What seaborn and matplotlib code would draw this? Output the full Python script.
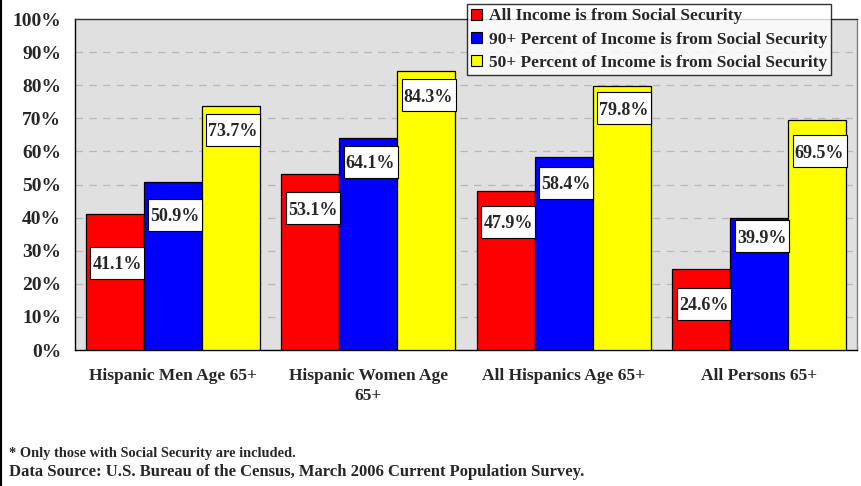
import matplotlib
matplotlib.use("Agg")
import matplotlib.pyplot as plt
import matplotlib.transforms as mtransforms
import seaborn as sns
import pandas as pd
from matplotlib.patches import Rectangle
from matplotlib.lines import Line2D

# Share of elderly recipients relying on Social Security, by group
groups = ["Hispanic Men Age 65+", "Hispanic Women Age\n65+",
          "All Hispanics Age 65+", "All Persons 65+"]
series = ["All Income is from Social Security",
          "90+ Percent of Income is from Social Security",
          "50+ Percent of Income is from Social Security"]
all_income = [41.1, 53.1, 47.9, 24.6]
ninety_plus = [50.9, 64.1, 58.4, 39.9]
fifty_plus = [73.7, 84.3, 79.8, 69.5]
ytick_values = [0, 10, 20, 30, 40, 50, 60, 70, 80, 90, 100]
footnote = "* Only those with Social Security are included."
source = "Data Source: U.S. Bureau of the Census, March 2006 Current Population Survey."

# how far each value box sits below its bar top (percentage points)
label_drop = [[14.8, 10.2, 9.2, 10.7],
              [10.1, 7.3, 7.9, 5.5],
              [7.2, 7.3, 6.7, 9.4]]

colors = ["#FF0000", "#0000FF", "#FFFF00"]

df = pd.DataFrame({
    "group": groups * 3,
    "series": [series[0]] * 4 + [series[1]] * 4 + [series[2]] * 4,
    "value": all_income + ninety_plus + fifty_plus,
})

sns.set_theme(style="white")
plt.rcParams["font.family"] = ["Liberation Serif", "DejaVu Serif"]
plt.rcParams["font.weight"] = "bold"

fig = plt.figure(figsize=(8.61, 4.86), dpi=100)
ax = fig.add_axes([75 / 861, 1 - 350 / 486, 782 / 861, 331 / 486])
ax.set_facecolor("#E0E0E0")

sns.barplot(data=df, x="group", y="value", hue="series", order=groups,
            hue_order=series, palette=colors, width=0.89, saturation=1,
            edgecolor="black", linewidth=0.9, errorbar=None, ax=ax, zorder=3)

ax.set_xlim(-0.5, 3.5)
ax.set_ylim(0, 100)
ax.set_yticks(ytick_values)
ax.set_yticklabels([f"{v}%" for v in ytick_values], fontsize=14, fontweight="bold")
ax.tick_params(axis="y", length=0, pad=10)
ax.set_xticks(range(len(groups)))
ax.set_xticklabels(groups, fontsize=12.5, fontweight="bold", linespacing=1.3)
ax.tick_params(axis="x", which="major", length=0, pad=13)
ax.set_xticks([-0.5, 0.5, 1.5, 2.5, 3.5], minor=True)
ax.tick_params(axis="x", which="minor", length=5, width=1, color="black", direction="out")
ax.set_xlabel("")
ax.set_ylabel("")

for v in ytick_values[1:-1]:
    ax.axhline(v, color="#B8B8B8", lw=0.9, ls=(0, (6, 5)), zorder=1)

for side in ["left", "bottom"]:
    ax.spines[side].set_color("black")
    ax.spines[side].set_linewidth(1.0)
ax.spines["top"].set_color("#303030")
ax.spines["top"].set_linewidth(1.0)
ax.spines["right"].set_color("#808080")
ax.spines["right"].set_linewidth(1.0)

# value boxes: fixed-size white boxes centred on each label
values = [all_income, ninety_plus, fifty_plus]
box_w, box_h = 0.54, 0.32  # inches
for si, cont in enumerate(ax.containers):
    for gi, bar in enumerate(cont.patches):
        v = values[si][gi]
        cx = bar.get_x() + bar.get_width() / 2 + 0.012
        cy = v - label_drop[si][gi]
        trans = fig.dpi_scale_trans + mtransforms.ScaledTranslation(cx, cy, ax.transData)
        ax.add_patch(Rectangle((-box_w / 2, -box_h / 2), box_w, box_h, transform=trans,
                               fc="white", ec="black", lw=0.8, zorder=5))
        ax.text(cx, cy, f"{v:.1f}%", ha="center", va="center_baseline",
                fontsize=13, fontweight="bold", zorder=6)

# legend
handles = [Rectangle((0, 0), 1, 1, fc=c, ec="black", lw=0.8) for c in colors]
leg = ax.legend(handles, series, loc="upper left", bbox_to_anchor=(467 / 861, 1 - 4 / 486),
                bbox_transform=fig.transFigure, frameon=True, fancybox=False,
                prop={"weight": "bold", "size": 12.5}, handlelength=0.6, handleheight=0.6,
                handletextpad=0.4, borderpad=0.25, labelspacing=0.42, borderaxespad=0)
leg.get_frame().set_edgecolor("black")
leg.get_frame().set_linewidth(1.0)
leg.set_zorder(10)

fig.text(9 / 861, 1 - 453 / 486, footnote, fontsize=10.4, fontweight="bold", va="center")
fig.text(9 / 861, 1 - 472 / 486, source, fontsize=12, fontweight="bold", va="center")

fig.add_artist(Line2D([0.5 / 861, 0.5 / 861], [0, 1], transform=fig.transFigure,
                      color="black", lw=1.5))

fig.savefig("out.png", dpi=100)
